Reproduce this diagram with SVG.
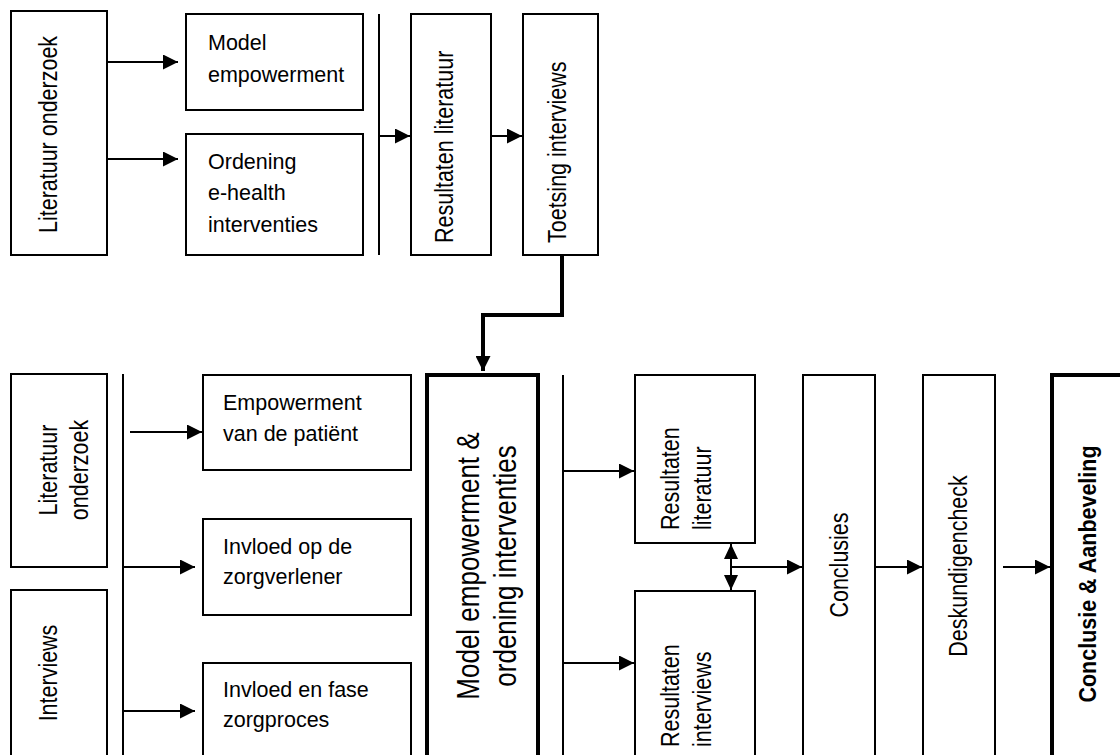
<svg xmlns="http://www.w3.org/2000/svg" width="1120" height="755" viewBox="0 0 1120 755">
<style>
.box{fill:#fff;stroke:#000;stroke-width:2}
.thick{fill:#fff;stroke:#000;stroke-width:4}
.ln{fill:none;stroke:#000;stroke-width:2}
.t{font-family:"Liberation Sans",Arial,sans-serif;font-size:21.5px;fill:#000}
.big{font-size:26px}
.b{font-weight:bold}
.m{text-anchor:middle}
</style>
<defs>
<marker id="ah" markerUnits="userSpaceOnUse" markerWidth="15" markerHeight="15" refX="15" refY="7.5" orient="auto-start-reverse">
<path d="M0,0 L15,7.5 L0,15 z" fill="#000"/>
</marker>
<marker id="ah2" markerUnits="userSpaceOnUse" markerWidth="15" markerHeight="14" refX="15" refY="7" orient="auto-start-reverse">
<path d="M0,0 L15,7 L0,14 z" fill="#000"/>
</marker>
</defs>
<rect width="1120" height="755" fill="#fff"/>

<g id="connectors">
<line class="ln" x1="107" y1="62" x2="178" y2="62" marker-end="url(#ah)"/>
<line class="ln" x1="107" y1="159" x2="178" y2="159" marker-end="url(#ah)"/>
<line class="ln" x1="379" y1="14" x2="379" y2="255"/>
<line class="ln" x1="379" y1="136" x2="410" y2="136" marker-end="url(#ah)"/>
<line class="ln" x1="491" y1="136" x2="522" y2="136" marker-end="url(#ah)"/>
<polyline fill="none" stroke="#000" stroke-width="4" points="562,255 562,315 483,315 483,355"/>
<line stroke="#000" stroke-width="4" x1="483" y1="350" x2="483" y2="371" marker-end="url(#ah)"/>
<line class="ln" x1="123" y1="374" x2="123" y2="760"/>
<line class="ln" x1="130" y1="432" x2="202" y2="432" marker-end="url(#ah)"/>
<line class="ln" x1="123" y1="567" x2="195" y2="567" marker-end="url(#ah)"/>
<line class="ln" x1="123" y1="711" x2="195" y2="711" marker-end="url(#ah)"/>
<line class="ln" x1="563" y1="375" x2="563" y2="760"/>
<line class="ln" x1="563" y1="471" x2="634" y2="471" marker-end="url(#ah)"/>
<line class="ln" x1="563" y1="663" x2="634" y2="663" marker-end="url(#ah)"/>
<line class="ln" x1="731" y1="544" x2="731" y2="590" marker-start="url(#ah2)" marker-end="url(#ah2)"/>
<line class="ln" x1="731" y1="567" x2="802" y2="567" marker-end="url(#ah)"/>
<line class="ln" x1="875" y1="567" x2="922" y2="567" marker-end="url(#ah)"/>
<line class="ln" x1="1003" y1="567" x2="1050" y2="567" marker-end="url(#ah)"/>
</g>

<g id="lit1">
<rect class="box" x="11" y="11" width="96" height="244"/>
<text class="t" transform="translate(57,233) rotate(-90) scale(1,1.18)">Literatuur onderzoek</text>
</g>
<g id="model1">
<rect class="box" x="186" y="14" width="177" height="96"/>
<text class="t" x="208" y="50">Model</text>
<text class="t" x="208" y="82">empowerment</text>
</g>
<g id="ordening1">
<rect class="box" x="186" y="134" width="177" height="121"/>
<text class="t" x="208" y="169">Ordening</text>
<text class="t" x="208" y="200">e-health</text>
<text class="t" x="208" y="232">interventies</text>
</g>
<g id="reslit1">
<rect class="box" x="411" y="14" width="80" height="241"/>
<text class="t" transform="translate(453,243) rotate(-90) scale(1,1.18)">Resultaten literatuur</text>
</g>
<g id="toetsing">
<rect class="box" x="523" y="14" width="75" height="241"/>
<text class="t" transform="translate(566,243) rotate(-90) scale(1,1.18)">Toetsing interviews</text>
</g>

<g id="lit2">
<rect class="box" x="11" y="374" width="96" height="193"/>
<text class="t m" transform="translate(57,470) rotate(-90) scale(1,1.18)">Literatuur</text>
<text class="t m" transform="translate(88,470) rotate(-90) scale(1,1.18)">onderzoek</text>
</g>
<g id="interviews">
<rect class="box" x="11" y="590" width="96" height="175"/>
<text class="t m" transform="translate(57,673) rotate(-90) scale(1,1.18)">Interviews</text>
</g>
<g id="empowerment">
<rect class="box" x="203" y="375" width="208" height="95"/>
<text class="t" x="223" y="410">Empowerment</text>
<text class="t" x="223" y="441">van de patiënt</text>
</g>
<g id="zorgverlener">
<rect class="box" x="203" y="519" width="208" height="96"/>
<text class="t" x="223" y="554">Invloed op de</text>
<text class="t" x="223" y="584">zorgverlener</text>
</g>
<g id="zorgproces">
<rect class="box" x="203" y="663" width="208" height="102"/>
<text class="t" x="223" y="697">Invloed en fase</text>
<text class="t" x="223" y="727">zorgproces</text>
</g>
<g id="model2">
<rect class="thick" x="427" y="375" width="111" height="390"/>
<text class="t big m" transform="translate(479,566) rotate(-90) scale(1,1.22)">Model empowerment &amp;</text>
<text class="t big m" transform="translate(516,566) rotate(-90) scale(1,1.22)">ordening interventies</text>
</g>
<g id="reslit2">
<rect class="box" x="635" y="375" width="120" height="168"/>
<text class="t" transform="translate(679,530) rotate(-90) scale(1,1.18)">Resultaten</text>
<text class="t" transform="translate(711,530) rotate(-90) scale(1,1.18)">literatuur</text>
</g>
<g id="resint">
<rect class="box" x="635" y="591" width="120" height="174"/>
<text class="t" transform="translate(679,747) rotate(-90) scale(1,1.18)">Resultaten</text>
<text class="t" transform="translate(711,747) rotate(-90) scale(1,1.18)">interviews</text>
</g>
<g id="conclusies">
<rect class="box" x="803" y="375" width="72" height="390"/>
<text class="t m" transform="translate(848,565) rotate(-90) scale(1,1.18)">Conclusies</text>
</g>
<g id="deskundigencheck">
<rect class="box" x="923" y="375" width="72" height="390"/>
<text class="t m" transform="translate(967,566) rotate(-90) scale(1,1.18)">Deskundigencheck</text>
</g>
<g id="aanbeveling">
<rect class="thick" x="1052" y="375" width="80" height="390"/>
<text class="t b m" transform="translate(1096,574) rotate(-90) scale(1,1.12)">Conclusie &amp; Aanbeveling</text>
</g>
</svg>
